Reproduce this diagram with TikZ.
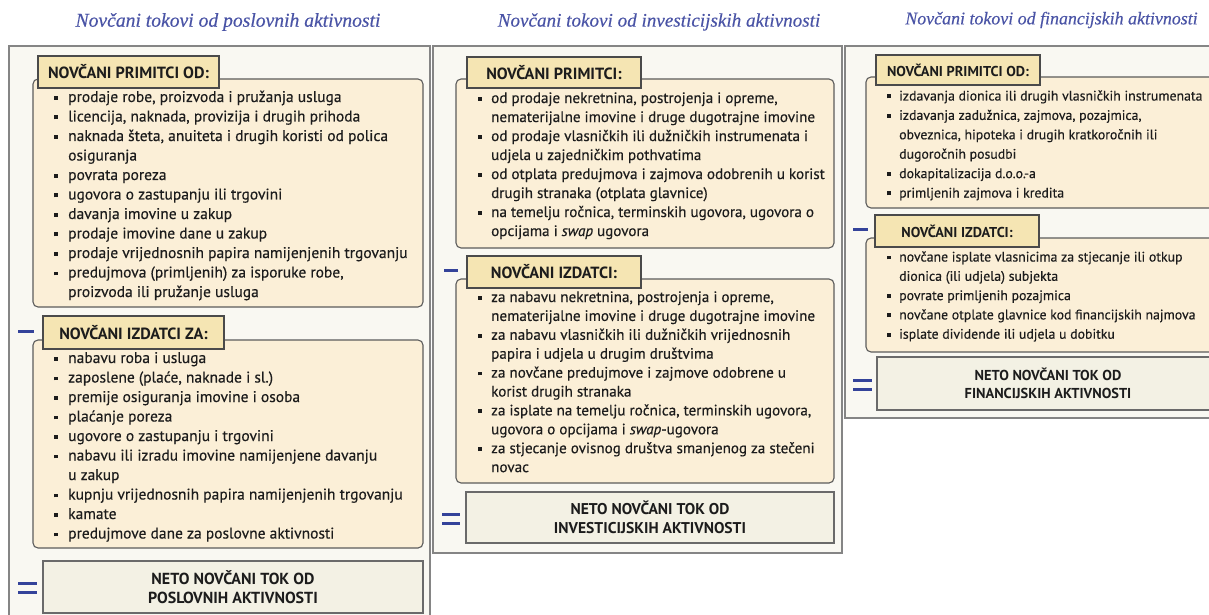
\documentclass[tikz,border=0pt]{standalone}
\usepackage{fontspec}
\setmainfont{PT Sans}
\newfontfamily\bodyfont{PT Sans}[FakeBold=0.35]
\newfontfamily\titlefont{Liberation Serif}[FakeBold=0.3]
\definecolor{titleblue}{HTML}{4A54A6}
\definecolor{signblue}{HTML}{34439A}
\definecolor{panelfill}{HTML}{F9F8F2}
\definecolor{panelborder}{HTML}{858585}
\definecolor{boxfill}{HTML}{FBEFD7}
\definecolor{boxborder}{HTML}{5C5C5C}
\definecolor{tabfill}{HTML}{F5E5B3}
\definecolor{tabborder}{HTML}{4A4A4A}
\definecolor{netfill}{HTML}{F3F1E4}
\definecolor{netborder}{HTML}{6A6A6A}
\definecolor{textcol}{HTML}{1C1C1C}
\newlength\bw
\newcommand\itm{\leavevmode\makebox[\bw][l]{\rule[2.2pt]{3.8pt}{3.8pt}}}
\newcommand\cnt{\leavevmode\hspace*{\bw}}
\newcommand\lst[3]{\setlength\bw{#2pt}\vtop{\hsize=430pt\parindent=0pt\parskip=0pt\baselineskip=#1pt\relax #3\par}}
\begin{document}
\begin{tikzpicture}[x=1pt,y=-1pt,
  panel/.style={draw=panelborder, line width=1.3pt, fill=panelfill},
  cbox/.style={draw=boxborder, line width=1.1pt, fill=boxfill, rounded corners=5pt},
  tab/.style={draw=tabborder, line width=1.2pt, fill=tabfill, inner sep=0pt, align=center, text=textcol},
  netbox/.style={draw=netborder, line width=1.3pt, fill=netfill, inner sep=0pt, align=center, text=textcol},
  sign/.style={draw=signblue, line width=3pt},
  titl/.style={text=titleblue},
  titA/.style={font=\titlefont\itshape\fontsize{19.6}{22}\selectfont},
  titB/.style={font=\titlefont\itshape\fontsize{19.1}{22}\selectfont},
  titC/.style={font=\titlefont\itshape\fontsize{17.9}{21}\selectfont},
  list/.style={anchor=base west, inner sep=0pt, text=textcol},
  bodyA/.style={font=\bodyfont\fontsize{15.5}{19.5}\selectfont},
  bodyB/.style={font=\bodyfont\fontsize{15.1}{19.5}\selectfont},
  bodyC/.style={font=\bodyfont\fontsize{13.8}{19.4}\selectfont},
  tabA/.style={font=\bfseries\fontsize{16.2}{18}\selectfont},
  tabC/.style={font=\bfseries\fontsize{14.3}{16}\selectfont},
  netA/.style={font=\bfseries\fontsize{16}{19.5}\selectfont},
  netB/.style={font=\bfseries\fontsize{15.6}{19}\selectfont},
  netC/.style={font=\bfseries\fontsize{14.4}{18}\selectfont}]
\useasboundingbox (0,0) rectangle (1209,615);
\clip (0,0) rectangle (1209,615);
\fill[white] (0,0) rectangle (1209,615);

% titles
\node[titl, titA] (title1) at (228,22) {Novčani tokovi od poslovnih aktivnosti};
\node[titl, titB] (title2) at (659,22) {Novčani tokovi od investicijskih aktivnosti};
\node[titl, titC] (title3) at (1051.5,20) {Novčani tokovi od financijskih aktivnosti};

% panels
\draw[panel] (9,46) rectangle (430,630);
\draw[panel] (433,46) rectangle (842,553);
\draw[panel] (845,46) rectangle (1225,418);

% ---------- column 1 ----------
\draw[cbox] (33,79) rectangle (423,307);
\node[tab, tabA, minimum width=181pt, minimum height=32pt] (t1a) at (128.5,72) {NOVČANI PRIMITCI OD:};
\node[list, bodyA] (l1a) at (54,102) {\lst{19.5}{14}{%
\itm prodaje robe, proizvoda i pružanja usluga\par
\itm licencija, naknada, provizija i drugih prihoda\par
\itm naknada šteta, anuiteta i drugih koristi od polica\par
\cnt osiguranja\par
\itm povrata poreza\par
\itm ugovora o zastupanju ili trgovini\par
\itm davanja imovine u zakup\par
\itm prodaje imovine dane u zakup\par
\itm prodaje vrijednosnih papira namijenjenih trgovanju\par
\itm predujmova (primljenih) za isporuke robe,\par
\cnt proizvoda ili pružanje usluga}};

\draw[sign] (18,331) -- (34,331);
\draw[cbox] (33,340) rectangle (423,548);
\node[tab, tabA, minimum width=181pt, minimum height=33pt] (t1b) at (133.5,332.5) {NOVČANI IZDATCI ZA:};
\node[list, bodyA] (l1b) at (54,363) {\lst{19.5}{14}{%
\itm nabavu roba i usluga\par
\itm zaposlene (plaće, naknade i sl.)\par
\itm premije osiguranja imovine i osoba\par
\itm plaćanje poreza\par
\itm ugovore o zastupanju i trgovini\par
\itm nabavu ili izradu imovine namijenjene davanju\par
\cnt u zakup\par
\itm kupnju vrijednosnih papira namijenjenih trgovanju\par
\itm kamate\par
\itm predujmove dane za poslovne aktivnosti}};

\draw[sign] (18,583) -- (37,583) (18,592) -- (37,592);
\node[netbox, netA, minimum width=380pt, minimum height=52pt] (n1) at (233,587) {NETO NOVČANI TOK OD\\POSLOVNIH AKTIVNOSTI};

% ---------- column 2 ----------
\draw[cbox] (456,79) rectangle (834,248);
\node[tab, tabA, minimum width=174pt, minimum height=31pt] (t2a) at (554,72.5) {NOVČANI PRIMITCI:};
\node[list, bodyB] (l2a) at (478,103) {\lst{19}{13}{%
\itm od prodaje nekretnina, postrojenja i opreme,\par
\cnt nematerijalne imovine i druge dugotrajne imovine\par
\itm od prodaje vlasničkih ili dužničkih instrumenata i\par
\cnt udjela u zajedničkim pothvatima\par
\itm od otplata predujmova i zajmova odobrenih u korist\par
\cnt drugih stranaka (otplata glavnice)\par
\itm na temelju ročnica, terminskih ugovora, ugovora o\par
\cnt opcijama i \textit{swap} ugovora}};

\draw[sign] (444,270.5) -- (458,270.5);
\draw[cbox] (456,279) rectangle (834,483);
\node[tab, tabA, minimum width=174pt, minimum height=32pt] (t2b) at (554,272) {NOVČANI IZDATCI:};
\node[list, bodyB] (l2b) at (478,302) {\lst{18.9}{13}{%
\itm za nabavu nekretnina, postrojenja i opreme,\par
\cnt nematerijalne imovine i druge dugotrajne imovine\par
\itm za nabavu vlasničkih ili dužničkih vrijednosnih\par
\cnt papira i udjela u drugim društvima\par
\itm za novčane predujmove i zajmove odobrene u\par
\cnt korist drugih stranaka\par
\itm za isplate na temelju ročnica, terminskih ugovora,\par
\cnt ugovora o opcijama i \textit{swap}-ugovora\par
\itm za stjecanje ovisnog društva smanjenog za stečeni\par
\cnt novac}};

\draw[sign] (442,514.5) -- (460,514.5) (442,523) -- (460,523);
\node[netbox, netB, minimum width=368pt, minimum height=51pt] (n2) at (650,517.5) {NETO NOVČANI TOK OD\\INVESTICIJSKIH AKTIVNOSTI};

% ---------- column 3 ----------
\draw[cbox] (866,77) rectangle (1219,208);
\node[tab, tabC, minimum width=164pt, minimum height=30pt] (t3a) at (958,70) {NOVČANI PRIMITCI OD:};
\node[list, bodyC] (l3a) at (887,100.5) {\lst{19.4}{12}{%
\itm izdavanja dionica ili drugih vlasničkih instrumenata\par
\itm izdavanja zadužnica, zajmova, pozajmica,\par
\cnt obveznica, hipoteka i drugih kratkoročnih ili\par
\cnt dugoročnih posudbi\par
\itm dokapitalizacija d.o.o.-a\par
\itm primljenih zajmova i kredita}};

\draw[sign] (853,229) -- (868,229);
\draw[cbox] (866,238) rectangle (1219,352);
\node[tab, tabC, minimum width=164pt, minimum height=32pt] (t3b) at (957,231) {NOVČANI IZDATCI:};
\node[list, bodyC] (l3b) at (887,261.5) {\lst{19.3}{12}{%
\itm novčane isplate vlasnicima za stjecanje ili otkup\par
\cnt dionica (ili udjela) subjekta\par
\itm povrate primljenih pozajmica\par
\itm novčane otplate glavnice kod financijskih najmova\par
\itm isplate dividende ili udjela u dobitku}};

\draw[sign] (853,380) -- (872,380) (853,389.5) -- (872,389.5);
\node[netbox, netC, minimum width=342pt, minimum height=53pt] (n3) at (1048,383.5) {NETO NOVČANI TOK OD\\FINANCIJSKIH AKTIVNOSTI};
\end{tikzpicture}
\end{document}
